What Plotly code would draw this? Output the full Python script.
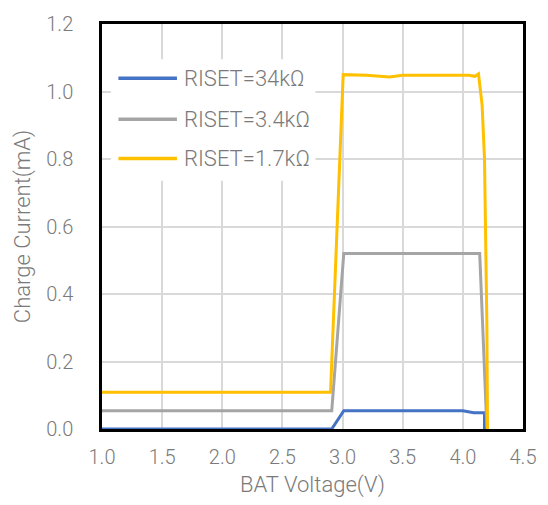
import plotly.graph_objects as go

# ---- data ----
series_names = ["RISET=34kΩ", "RISET=3.4kΩ", "RISET=1.7kΩ"]
series_colors = ["#4472C4", "#A5A5A5", "#FFC000"]

v_34k = [1.0, 2.91, 3.01, 3.5, 4.0, 4.09, 4.18, 4.18]
i_34k = [0.0, 0.0, 0.054, 0.054, 0.054, 0.048, 0.048, 0.0]

v_3k4 = [1.0, 2.91, 3.01, 3.5, 4.0, 4.14, 4.2]
i_3k4 = [0.054, 0.054, 0.52, 0.52, 0.52, 0.52, 0.0]

v_1k7 = [1.0, 2.90, 3.005, 3.2, 3.39, 3.5, 3.8, 4.05, 4.10, 4.13, 4.16, 4.18, 4.20, 4.205]
i_1k7 = [0.109, 0.109, 1.05, 1.048, 1.043, 1.048, 1.048, 1.048, 1.045, 1.052, 0.96, 0.80, 0.30, 0.0]

x_ticks = [1.0, 1.5, 2.0, 2.5, 3.0, 3.5, 4.0, 4.5]
y_ticks = [0.0, 0.2, 0.4, 0.6, 0.8, 1.0, 1.2]
x_title = "BAT Voltage(V)"
y_title = "Charge Current(mA)"

FONT = "Roboto"
TXT = "#7a7a7a"
W = 300

fig = go.Figure()
for xs, ys, name, col in zip([v_34k, v_3k4, v_1k7], [i_34k, i_3k4, i_1k7], series_names, series_colors):
    fig.add_trace(go.Scatter(x=xs, y=ys, mode="lines", name=name,
                             line=dict(color=col, width=3), showlegend=False))

# manual legend (Excel-style, inside plot with white background)
fig.add_shape(type="rect", xref="paper", yref="paper", x0=0.021, x1=0.507, y0=0.613, y1=0.913,
              fillcolor="white", line=dict(width=0), layer="above")
leg_y = [0.866, 0.765, 0.668]
for name, col, yy in zip(series_names, series_colors, leg_y):
    fig.add_shape(type="line", xref="paper", yref="paper", x0=0.039, x1=0.178, y0=yy, y1=yy,
                  line=dict(color=col, width=3.5), layer="above")
    fig.add_annotation(xref="paper", yref="paper", x=0.19, y=yy, text=name, showarrow=False,
                       xanchor="left", yanchor="middle",
                       font=dict(family=FONT, size=22, color=TXT, weight=W))

fig.update_layout(
    width=548, height=505,
    margin=dict(l=102, r=15, t=16, b=76),
    paper_bgcolor="white", plot_bgcolor="white",
    font=dict(family=FONT, color=TXT, weight=W),
)
fig.update_xaxes(range=[1.0, 4.5], tickvals=x_ticks, ticktext=[f"{v:.1f}" for v in x_ticks],
                 showgrid=True, gridcolor="#d9d9d9", gridwidth=2,
                 showline=True, mirror=True, linecolor="black", linewidth=2.5,
                 zeroline=False, tickfont=dict(size=20, color=TXT, weight=W), ticklabelstandoff=8,
                 title=dict(text=x_title, font=dict(size=22, color=TXT, weight=W), standoff=9))
fig.update_yaxes(range=[0.0, 1.2], tickvals=y_ticks, ticktext=[f"{v:.1f}" for v in y_ticks],
                 showgrid=True, gridcolor="#d9d9d9", gridwidth=2,
                 showline=True, mirror=True, linecolor="black", linewidth=2.5,
                 zeroline=False, tickfont=dict(size=20, color=TXT, weight=W), ticklabelstandoff=22,
                 title=dict(text=y_title, font=dict(size=22, color=TXT, weight=W), standoff=10))

fig.write_html("out.html")
